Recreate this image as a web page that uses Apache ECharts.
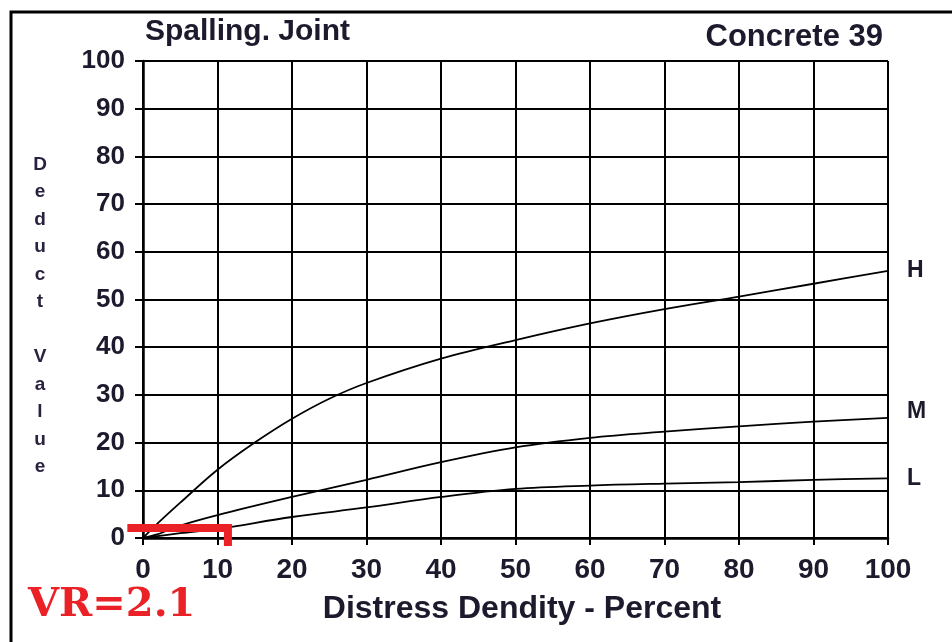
<!DOCTYPE html>
<html>
<head>
<meta charset="utf-8">
<script src="https://cdn.jsdelivr.net/npm/echarts@6/dist/echarts.min.js"></script>
<style>html,body{margin:0;padding:0;background:#fff}#c{width:952px;height:642px}</style>
</head>
<body>
<div id="c"></div>
<script>
// Distress density (%) vs deduct value
const curveH = [[0,0],[2,3.1],[5,7.4],[10,14.3],[15,20],[20,25],[25,29.2],[30,32.5],[40,37.6],[50,41.5],[60,45],[70,48],[80,50.6],[90,53.3],[100,56]];
const curveM = [[0,0],[2,0.8],[5,2.6],[10,4.8],[20,8.6],[30,12.2],[40,15.9],[50,19],[60,21],[70,22.3],[80,23.4],[90,24.4],[100,25.2]];
const curveL = [[0,0],[5,1],[10,1.9],[20,4.4],[30,6.4],[40,8.6],[50,10.3],[60,11],[70,11.4],[80,11.7],[90,12.2],[100,12.5]];
const vrMarker = [[-2.1,2.1],[11.4,2.1],[11.4,-1.7]];
const curveNames = ['H','M','L'];
const xTicks = [0,10,20,30,40,50,60,70,80,90,100];
const yTicks = [0,10,20,30,40,50,60,70,80,90,100];

const chart = echarts.init(document.getElementById('c'), null, {renderer:'canvas'});
const txt = '#1c1a2c';
const font = '"Liberation Sans", Arial, sans-serif';
function curve(name, data, offY){
  return {
    name: name, type:'line', data:data, smooth:0.35, symbol:'none',
    lineStyle:{color:'#000', width:1.8}, z:3,
    endLabel:{show:true, formatter:'{a}', distance:19, offset:[0,offY],
      color:txt, fontFamily:font, fontWeight:'bold', fontSize:23}
  };
}
const staticGraphics = [
  {type:'rect', shape:{x:11, y:12, width:1200, height:1000}, style:{fill:'none', stroke:'#000', lineWidth:3}, z:10},
  {type:'text', left:145, top:17, style:{text:'Spalling. Joint', fill:txt, font:'bold 30px '+font}},
  {type:'text', right:69, top:22, style:{text:'Concrete 39', fill:txt, font:'bold 31px '+font, textAlign:'right'}},
  {type:'text', x:40, y:151, style:{text:'D\ne\nd\nu\nc\nt\n\nV\na\nl\nu\ne', fill:'#2a2140', font:'bold 19px '+font, textAlign:'center', lineHeight:27.5}},
  {type:'text', x:522, y:609, style:{text:'Distress Dendity - Percent', fill:txt, font:'bold 32px '+font, textAlign:'center', textVerticalAlign:'middle'}},
  {type:'text', x:28, y:606, style:{text:'VR=2.1', fill:'#ea2127', font:'bold 40px "DejaVu Serif", serif', textVerticalAlign:'middle'}}
];
chart.setOption({
  animation:false,
  backgroundColor:'#fff',
  grid:{left:143, right:64, top:61, bottom:104},
  xAxis:{type:'value', min:xTicks[0], max:xTicks[xTicks.length-1], interval:10,
    axisLine:{lineStyle:{color:'#000', width:2.5}},
    axisTick:{show:true, length:7, lineStyle:{color:'#000', width:2}},
    splitLine:{show:true, lineStyle:{color:'#000', width:2}},
    axisLabel:{color:txt, fontFamily:font, fontWeight:'bold', fontSize:28, margin:18}
  },
  yAxis:{type:'value', min:yTicks[0], max:yTicks[yTicks.length-1], interval:10,
    axisLine:{show:true, lineStyle:{color:'#000', width:2.5}},
    axisTick:{show:true, length:8, lineStyle:{color:'#000', width:2}},
    splitLine:{show:true, lineStyle:{color:'#000', width:2}},
    axisLabel:{color:txt, fontFamily:font, fontWeight:'bold', fontSize:26, margin:18}
  },
  series:[
    curve(curveNames[0], curveH, 0),
    curve(curveNames[1], curveM, -6),
    curve(curveNames[2], curveL, 0)
  ],
  graphic: staticGraphics
});
// VR marker drawn through the chart's own scales
const vrPts = vrMarker.map(p => chart.convertToPixel({gridIndex:0}, p));
chart.setOption({graphic: staticGraphics.concat([
  {type:'polyline', shape:{points:vrPts}, z:20,
   style:{fill:'none', stroke:'#ea2127', lineWidth:8, lineCap:'butt', lineJoin:'miter'}}
])});
</script>
</body>
</html>
